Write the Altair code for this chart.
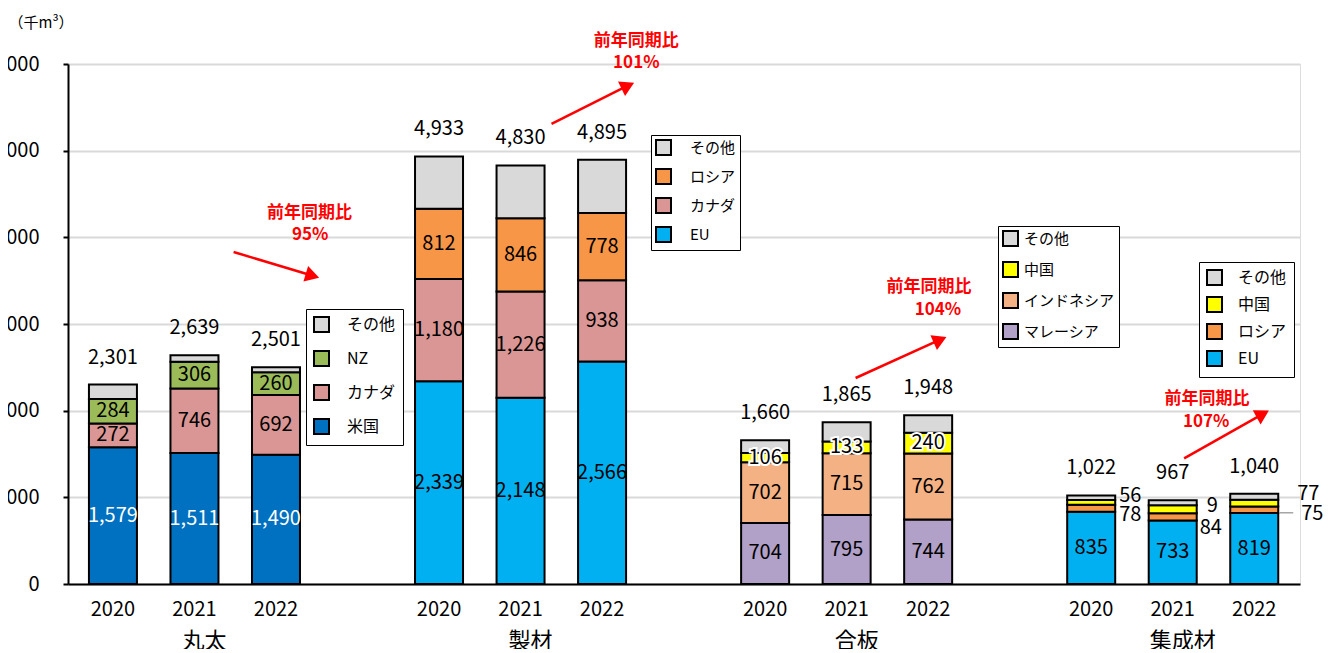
import altair as alt
import pandas as pd

FONT = "Noto Sans CJK JP"

categories = ["丸太", "製材", "合板", "集成材"]
years = ["2020", "2021", "2022"]

# 丸太 (bottom -> top)
series_maruta = ["米国", "カナダ", "NZ", "その他"]
maruta_us = [1579, 1511, 1490]
maruta_canada = [272, 746, 692]
maruta_nz = [284, 306, 260]
maruta_other = [166, 76, 59]

# 製材
series_seizai = ["EU", "カナダ", "ロシア", "その他"]
seizai_eu = [2339, 2148, 2566]
seizai_canada = [1180, 1226, 938]
seizai_russia = [812, 846, 778]
seizai_other = [602, 610, 613]

# 合板
series_gouban = ["マレーシア", "インドネシア", "中国", "その他"]
gouban_malaysia = [704, 795, 744]
gouban_indonesia = [702, 715, 762]
gouban_china = [106, 133, 240]
gouban_other = [148, 222, 202]

# 集成材
series_shusei = ["EU", "ロシア", "中国", "その他"]
shusei_eu = [835, 733, 819]
shusei_russia = [78, 84, 75]
shusei_china = [56, 92, 77]
shusei_other = [53, 58, 69]
shusei_top_labels = ["56", "9", "77"]

colors_maruta = ["#0070c0", "#da9694", "#9bbb59", "#d9d9d9"]
colors_seizai = ["#00b0f0", "#da9694", "#f79646", "#d9d9d9"]
colors_gouban = ["#b1a0c7", "#f4b183", "#ffff00", "#d9d9d9"]
colors_shusei = ["#00b0f0", "#f79646", "#ffff00", "#d9d9d9"]

labelled = {
    "丸太": ["米国", "カナダ", "NZ"],
    "製材": ["EU", "カナダ", "ロシア"],
    "合板": ["マレーシア", "インドネシア", "中国"],
    "集成材": ["EU"],
}

y_ticks = [0, 1000, 2000, 3000, 4000, 5000, 6000]

# YoY annotations
ratio_labels = ["95%", "101%", "104%", "107%"]
ann_title_slot = [2.41, 6.42, 10.01, 13.42]
ann_title_val = [4281, 6260, 3427, 2135]
ann_pct_slot = [2.42, 6.42, 10.12, 13.41]
ann_pct_val = [4027, 6011, 3161, 1875]
arrow_x0 = [1.48, 5.38, 9.11, 13.14]
arrow_y0 = [3831, 5308, 2377, 1450]
arrow_x1 = [2.42, 6.29, 10.12, 14.08]
arrow_y1 = [3565, 5738, 2807, 1949]
arrow_angle = [107, 64, 66, 61]

groups = [
    ("丸太", series_maruta, [maruta_us, maruta_canada, maruta_nz, maruta_other], colors_maruta),
    ("製材", series_seizai, [seizai_eu, seizai_canada, seizai_russia, seizai_other], colors_seizai),
    ("合板", series_gouban, [gouban_malaysia, gouban_indonesia, gouban_china, gouban_other], colors_gouban),
    ("集成材", series_shusei, [shusei_eu, shusei_russia, shusei_china, shusei_other], colors_shusei),
]

rows = []
for ci, (cat, ser, vals, _) in enumerate(groups):
    for yi, yr in enumerate(years):
        for si, s in enumerate(ser):
            rows.append({
                "cat": cat, "year": yr, "slot": ci * 4 + yi, "series": s,
                "value": vals[si][yi], "order": si,
                "lab": 1 if s in labelled[cat] else 0,
            })
df = pd.DataFrame(rows)

# 集成材 side labels
side_rows = []
for yi, yr in enumerate(years):
    side_rows.append({
        "year": yr, "slot": 12 + yi,
        "total": shusei_eu[yi] + shusei_russia[yi] + shusei_china[yi] + shusei_other[yi],
        "rmid": shusei_eu[yi] + shusei_russia[yi] / 2,
        "top": shusei_top_labels[yi], "rus": str(shusei_russia[yi]),
    })
side_df = pd.DataFrame(side_rows)

ann_rows = []
for i in range(4):
    ann_rows.append({"slot": ann_title_slot[i], "v": ann_title_val[i], "t": "前年同期比"})
    ann_rows.append({"slot": ann_pct_slot[i], "v": ann_pct_val[i], "t": ratio_labels[i]})
ann_df = pd.DataFrame(ann_rows)
arrow_df = pd.DataFrame({"x0": arrow_x0, "y0": arrow_y0, "x1": arrow_x1,
                         "y1": arrow_y1, "ang": arrow_angle})

xscale = alt.Scale(domain=[-0.49, 14.5], nice=False, zero=False)
yscale = alt.Scale(domain=[0, 6000], nice=False)
xaxis = alt.Axis(labels=False, ticks=False, grid=False, title=None,
                 domainColor="black", domainWidth=2)
yaxis = alt.Axis(values=y_ticks,
                 labelExpr="datum.value == 0 ? '0' : floor(datum.value / 1000) + ',000'",
                 labelFontSize=20, labelFont=FONT, labelColor="black",
                 tickSize=5, tickColor="black", tickWidth=2,
                 domainColor="black", domainWidth=2,
                 gridColor="#d9d9d9", gridWidth=2, labelPadding=24,
                 title="（千m³）", titleAngle=0, titleAlign="left",
                 titleBaseline="middle", titleX=-60, titleY=-42,
                 titleFontSize=15, titleFontWeight="normal", titleFont=FONT,
                 titleColor="black")


def X(field):
    return alt.X(field, type="quantitative", scale=xscale, axis=xaxis)


def Y(field):
    return alt.Y(field, type="quantitative", scale=yscale, axis=yaxis)


base = alt.Chart(df).transform_stack(
    stack="value", groupby=["cat", "year"],
    sort=[alt.SortField("order", order="ascending")], as_=["y0", "y1"]
).transform_joinaggregate(
    total="sum(value)", groupby=["cat", "year"]
).transform_calculate(
    mid="(datum.y0 + datum.y1) / 2", zero="0"
)

legend_pos = {
    "丸太": dict(legendX=238, legendY=245, padding=7, rowPadding=11, labelOffset=17, fs=16),
    "製材": dict(legendX=583, legendY=71, padding=4, rowPadding=6, labelOffset=18, fs=15),
    "合板": dict(legendX=930, legendY=162, padding=4, rowPadding=8, labelOffset=5, fs=15),
    "集成材": dict(legendX=1131, legendY=198, padding=7, rowPadding=4, labelOffset=15, fs=16),
}

layers = []
for cat, ser, vals, cols in groups:
    lp = legend_pos[cat]
    leg = alt.Legend(orient="none", direction="vertical", title=None,
                     legendX=lp["legendX"], legendY=lp["legendY"],
                     padding=lp["padding"], rowPadding=lp["rowPadding"],
                     labelOffset=lp["labelOffset"],
                     fillColor="white", strokeColor="black",
                     symbolType="square", symbolSize=225,
                     symbolStrokeColor="black", symbolStrokeWidth=2,
                     symbolOpacity=1,
                     labelFont=FONT, labelFontSize=lp["fs"], labelColor="black")
    layers.append(
        base.transform_filter(alt.datum.cat == cat).mark_bar(
            size=48, stroke="black", strokeWidth=2, opacity=1
        ).encode(
            x=X("slot"), y=Y("y0"), y2="y1",
            color=alt.Color("series:N", scale=alt.Scale(domain=ser[::-1], range=cols[::-1]),
                            legend=leg),
        )
    )

seg_common = dict(font=FONT, fontSize=20, baseline="middle", align="center")

# black segment labels
layers.append(
    base.transform_filter(
        "datum.lab == 1 && datum.series != '米国' && !(datum.cat == '合板' && datum.series == '中国')"
    ).mark_text(color="black", **seg_common).encode(
        x=X("slot"), y=Y("mid"), text=alt.Text("value:Q", format=",")
    )
)
# white labels (米国)
layers.append(
    base.transform_filter("datum.series == '米国'").mark_text(color="white", **seg_common).encode(
        x=X("slot"), y=Y("mid"), text=alt.Text("value:Q", format=",")
    )
)
# haloed labels (合板 中国)
china_f = "datum.cat == '合板' && datum.series == '中国'"
layers.append(
    base.transform_filter(china_f).mark_text(color="white", stroke="white", strokeWidth=4,
                                             **seg_common).encode(
        x=X("slot"), y=Y("mid"), text=alt.Text("value:Q", format=",")
    )
)
layers.append(
    base.transform_filter(china_f).mark_text(color="black", **seg_common).encode(
        x=X("slot"), y=Y("mid"), text=alt.Text("value:Q", format=",")
    )
)
# totals
layers.append(
    base.transform_filter("datum.order == 0").mark_text(
        color="black", dy=-27, **seg_common
    ).encode(x=X("slot"), y=Y("total"), text=alt.Text("total:Q", format=","))
)
# year labels
layers.append(
    base.transform_filter("datum.order == 0").mark_text(
        color="black", dy=26, font=FONT, fontSize=20, baseline="middle", align="center"
    ).encode(x=X("slot"), y=Y("zero:Q"), text="year:N")
)
# group labels
layers.append(
    base.transform_filter("datum.order == 0 && datum.year == '2021'").mark_text(
        color="black", dy=57, dx=10, font=FONT, fontSize=22, baseline="middle", align="center"
    ).encode(x=X("slot"), y=Y("zero:Q"), text="cat:N")
)

# 集成材 side labels
side_offsets = [(28, 1, 28, 7), (34, 6, 27, 11), (43, 0, 47, 4)]
for yi, yr in enumerate(years):
    dxt, dyt, dxr, dyr = side_offsets[yi]
    sd = alt.Chart(side_df).transform_filter(alt.datum.year == yr)
    layers.append(sd.mark_text(color="black", dx=dxt, dy=dyt, font=FONT, fontSize=20,
                               baseline="middle", align="left").encode(
        x=X("slot"), y=Y("total"), text="top:N"))
    layers.append(sd.mark_text(color="black", dx=dxr, dy=dyr, font=FONT, fontSize=20,
                               baseline="middle", align="left").encode(
        x=X("slot"), y=Y("rmid"), text="rus:N"))
# leader line for 2022 ロシア label
layers.append(
    alt.Chart(side_df).transform_filter(alt.datum.year == "2022").mark_rule(
        color="#a6a6a6", strokeWidth=1.5, xOffset=25, x2Offset=39, yOffset=3, y2Offset=3
    ).encode(x=X("slot"), x2="slot", y=Y("rmid"), y2="rmid")
)

# arrows
layers.append(
    alt.Chart(arrow_df).mark_rule(color="#ff0000", strokeWidth=2.5).encode(
        x=X("x0"), x2="x1", y=Y("y0"), y2="y1")
)
layers.append(
    alt.Chart(arrow_df).mark_point(shape="triangle", filled=True, color="#ff0000",
                                   size=260, opacity=1).encode(
        x=X("x1"), y=Y("y1"), angle=alt.Angle("ang:Q", scale=None))
)
layers.append(
    alt.Chart(ann_df).mark_text(color="#ff0000", font=FONT, fontSize=17, fontWeight="bold",
                                baseline="middle", align="center").encode(
        x=X("slot"), y=Y("v"), text="t:N")
)

chart = alt.layer(*layers).resolve_scale(color="independent").properties(
    width=1232, height=520,
    autosize=alt.AutoSizeParams(type="none"),
    padding={"left": 60, "top": 56, "right": 30, "bottom": 65},
).configure_view(stroke=None).configure(background="white")

chart.save("out.html", embed_options={"renderer": "svg", "actions": False})
